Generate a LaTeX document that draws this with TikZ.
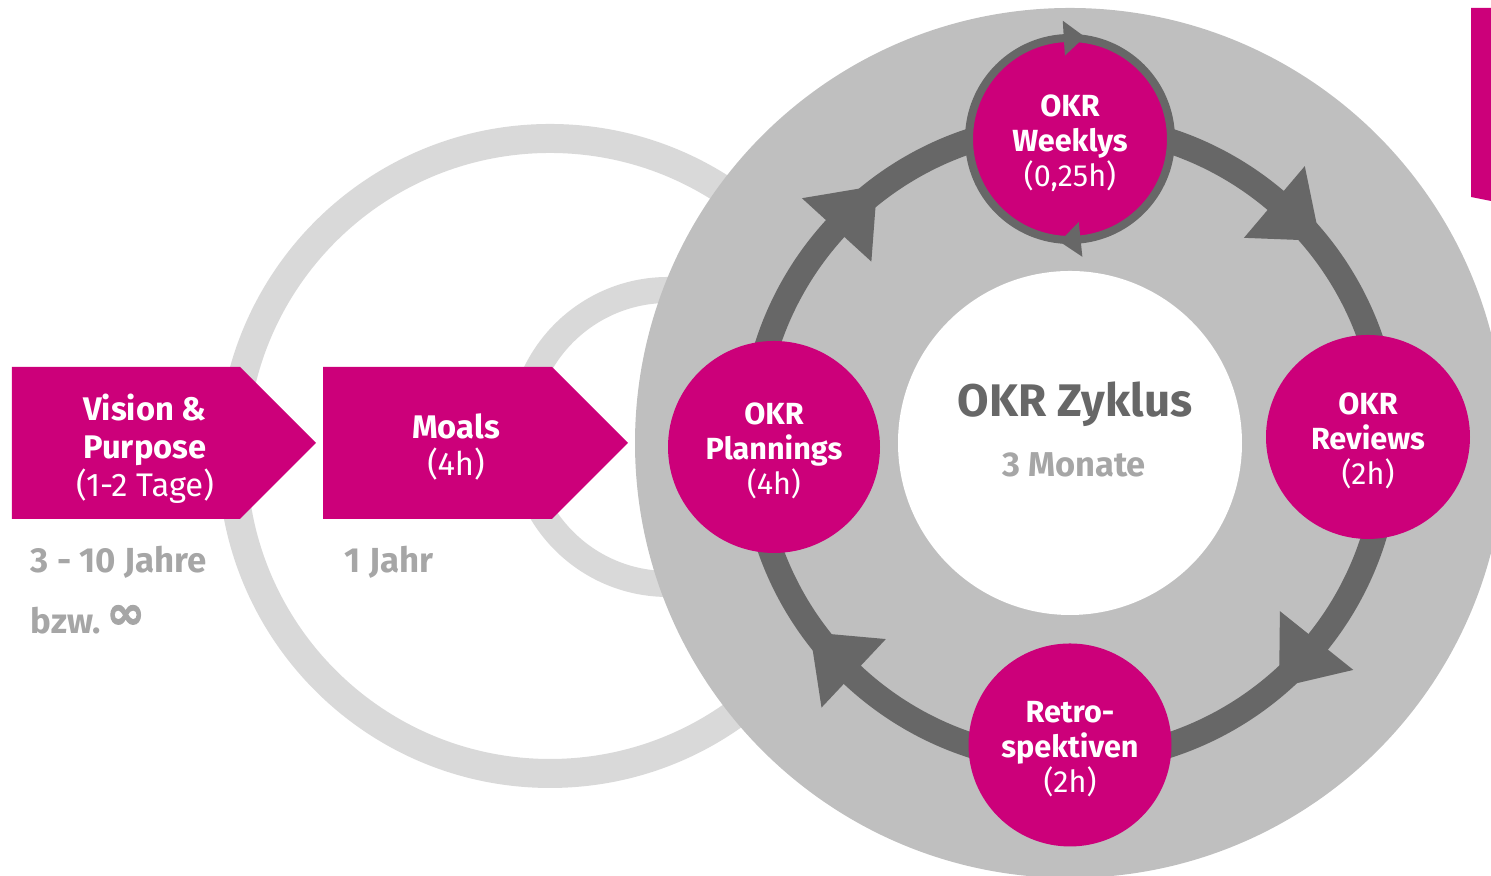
\documentclass[tikz,border=0pt]{standalone}
\usepackage{fontspec}
\setmainfont{Fira Sans}
\newfontfamily\symfont[FakeBold=2.5]{DejaVu Sans}
\definecolor{okrpink}{RGB}{204,0,122}
\definecolor{ringgray}{RGB}{103,103,103}
\definecolor{discgray}{RGB}{191,191,191}
\definecolor{palegray}{RGB}{217,217,217}
\definecolor{textgray}{RGB}{166,166,166}
\newcommand{\okrstrut}{\rule{0pt}{0.98em}}

\begin{document}
\begin{tikzpicture}[
        okrnode/.style={circle, fill=okrpink, text=white, align=center, inner sep=0pt, font=\fontsize{8.7}{10}\selectfont},
        stage/.style={text=white, align=center, font=\fontsize{9.3}{10.8}\selectfont},
        timespan/.style={anchor=west, inner sep=0pt, text=textgray, font=\fontsize{9.9}{12}\selectfont\bfseries}]
            \useasboundingbox (0,0) rectangle (14.91,8.76);
            \clip (0,0) rectangle (14.91,8.76);
            \coordinate (C) at (10.70,4.33);
            % Jahr und Moal Ringe
            \draw[palegray, line width=0.29cm] (5.50,4.20) circle (3.175);
            \draw[palegray, line width=0.26cm] (6.68,4.39) circle (1.47);
            \fill[okrpink] (0.12,3.57) -- (2.40,3.57) -- (3.16,4.33) -- (2.40,5.09) -- (0.12,5.09) -- cycle;
            \fill[okrpink] (3.23,3.57) -- (5.52,3.57) -- (6.28,4.33) -- (5.52,5.09) -- (3.23,5.09) -- cycle;
            \node[stage] (vision) at (1.45,4.27) {\textbf{Vision \&}\\\textbf{Purpose}\\(1-2 Tage)};
            \node[stage] (moals) at (4.56,4.29) {\textbf{Moals}\\(4h)};
            \node[timespan] (jahre) at (0.30,3.14) {3 - 10 Jahre};
            \node[timespan] (bzw) at (0.30,2.56) {bzw.\,\raisebox{.3ex}{\symfont\fontsize{13}{13}\selectfont ∞}};
            \node[timespan] (jahr) at (3.44,3.14) {1 Jahr};
            % Zyklus
            \fill[discgray] (C) circle (4.35);
            \fill[white] (C) circle (1.72);
            \draw[ringgray, line width=0.25cm] (C) circle (3.18);
            \fill[ringgray, shift={(C)}, rotate=137.6] (3.63,0) -- (3.16,-0.60) -- (2.69,0) -- cycle;
            \fill[ringgray, shift={(C)}, rotate=49.7] (3.63,0) -- (3.16,-0.60) -- (2.69,0) -- cycle;
            \fill[ringgray, shift={(C)}, rotate=-38.7] (3.63,0) -- (3.16,-0.60) -- (2.69,0) -- cycle;
            \fill[ringgray, shift={(C)}, rotate=-133.2] (3.63,0) -- (3.16,-0.60) -- (2.69,0) -- cycle;
            \node[text=ringgray, font=\fontsize{13}{16}\selectfont\bfseries] (zyklus) at (10.75,4.72) {OKR Zyklus};
            \node[text=textgray, font=\fontsize{9.8}{12}\selectfont\bfseries] (monate) at (10.74,4.11) {3 Monate};
            \node[okrnode, draw=ringgray, line width=0.08cm, minimum size=2.02cm] (weeklys) at (10.70,7.37) {\okrstrut\textbf{OKR}\\\textbf{Weeklys}\\(0,25h)};
            \fill[ringgray, shift={(weeklys.center)}, rotate=93.5] (1.185,0) -- (1.01,-0.21) -- (0.835,0) -- cycle;
            \fill[ringgray, shift={(weeklys.center)}, rotate=-84] (1.185,0) -- (1.01,-0.21) -- (0.835,0) -- cycle;
            \node[okrnode, minimum size=2.04cm] (reviews) at (13.68,4.39) {\okrstrut\textbf{OKR}\\\textbf{Reviews}\\(2h)};
            \node[okrnode, minimum size=2.03cm] (retro) at (10.70,1.31) {\okrstrut\textbf{Retro-}\\\textbf{spektiven}\\(2h)};
            \node[okrnode, minimum size=2.12cm] (plannings) at (7.74,4.29) {\okrstrut\textbf{OKR}\\\textbf{Plannings}\\(4h)};
            %\draw[ringgray] (plannings) -- (weeklys);
            \fill[okrpink] (14.71,8.68) -- (14.91,8.68) -- (14.91,6.75) -- (14.71,6.79) -- cycle;
        \end{tikzpicture}
\end{document}
